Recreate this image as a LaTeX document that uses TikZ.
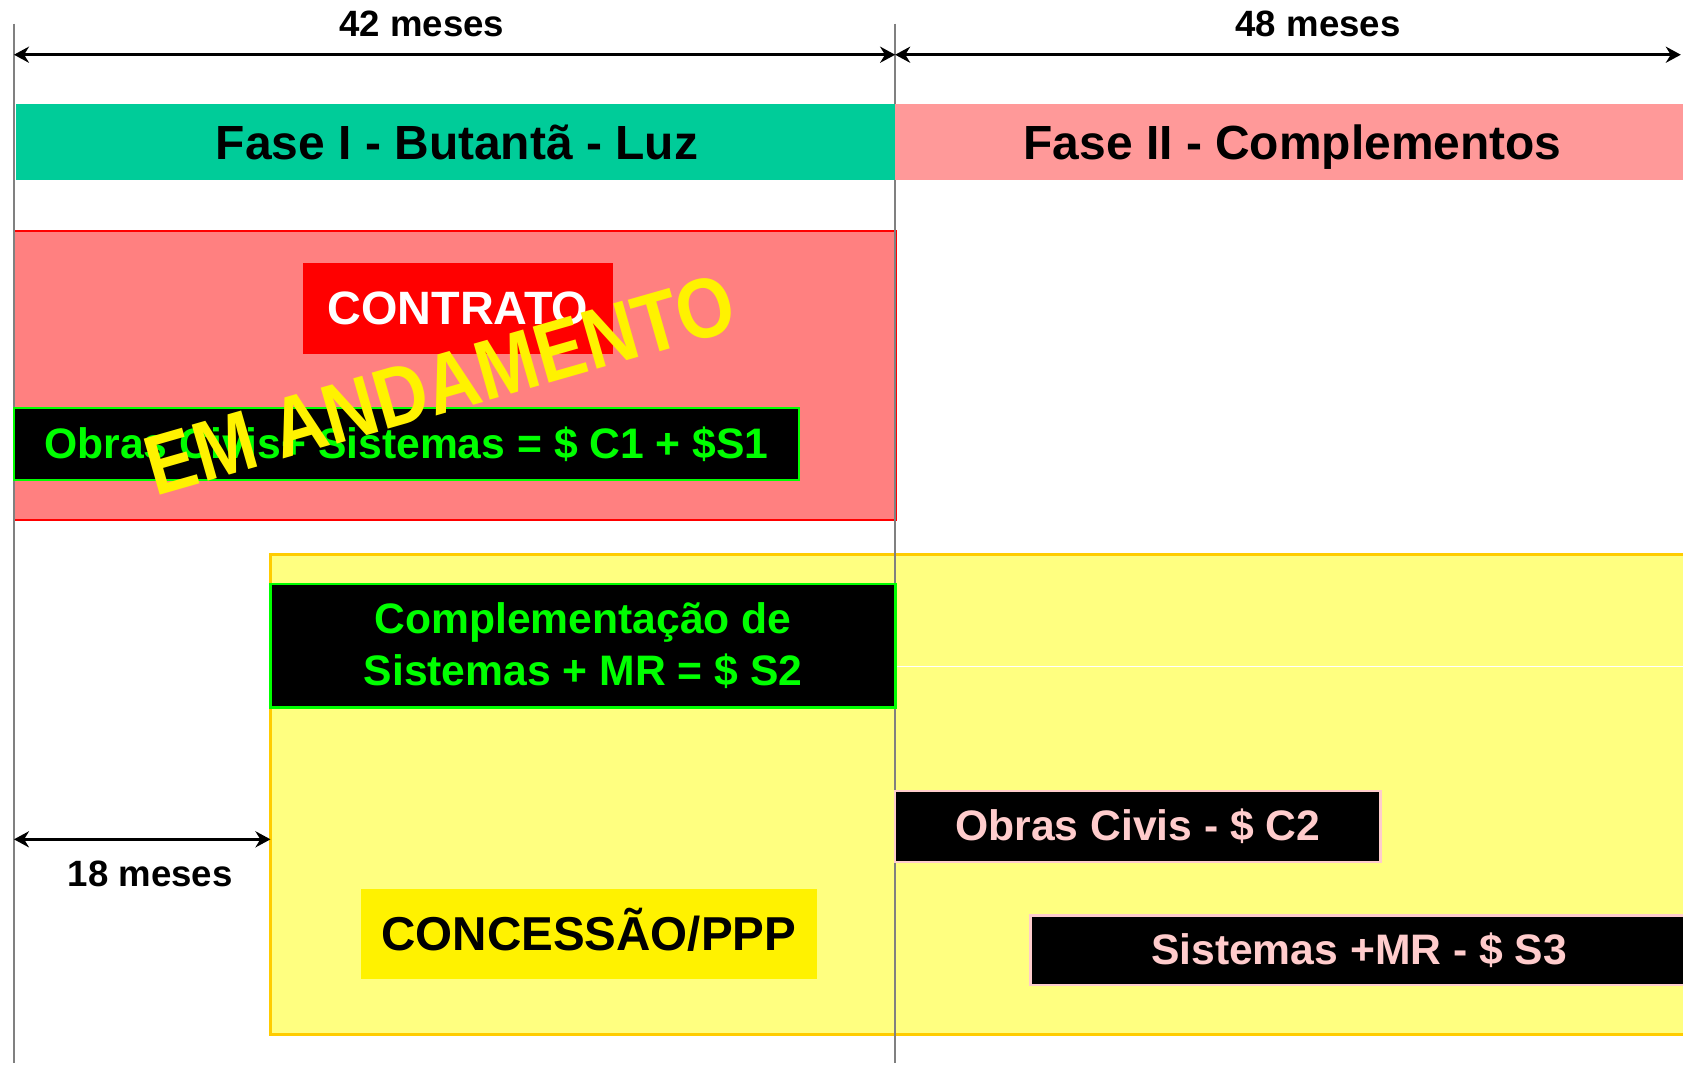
\documentclass[tikz,border=0pt]{standalone}
\usepackage{fontspec}
\setmainfont{Liberation Sans}
\usetikzlibrary{arrows.meta, positioning}

\definecolor{faseverde}{HTML}{00CC99}
\definecolor{faserosa}{HTML}{FF9999}
\definecolor{contratobg}{HTML}{FF8080}
\definecolor{concbg}{HTML}{FFFF80}
\definecolor{concborda}{HTML}{FFCC00}
\definecolor{verdetxt}{HTML}{00FF00}
\definecolor{rosatxt}{HTML}{FFCCCC}
\definecolor{linhacinza}{HTML}{808080}

\begin{document}
\begin{tikzpicture}[x=0.01cm, y=-0.01cm,
    every node/.style={font=\bfseries, align=center},
    bloco/.style={anchor=north west, inner sep=0pt, outer sep=0pt},
    faixa/.style={bloco, minimum height=0.71cm, text height=9.1pt, text depth=0pt, font=\fontsize{12.7}{15}\bfseries},
    cota/.style={{Stealth[length=1.4mm, width=1.5mm]}-{Stealth[length=1.4mm, width=1.5mm]}, line width=0.8pt, black}]
  \useasboundingbox (0,0) rectangle (1568,1001);

  % Areas de fundo
  \node (emcurso) [bloco, fill=contratobg, draw=red, line width=0.6pt, minimum width=8.21cm, minimum height=2.69cm] at (13,215) {};
  \node (concarea) [bloco, fill=concbg, draw=concborda, line width=0.8pt, minimum width=13.2cm, minimum height=4.47cm] at (252,517) {};
  \draw[white, line width=0.3pt] (concarea.west |- 0,621) ++(582,0) -- (1568,621);

  % Linhas verticais
  \coordinate (g0) at (13,22);
  \coordinate (g1) at (13,990);
  \coordinate (m0) at (834,22);
  \coordinate (m1) at (834,990);
  \draw[linhacinza, line width=0.7pt] (g0) -- (g1);
  \draw[linhacinza, line width=0.7pt] (m0) -- (m1);

  % Cotas de prazo
  \coordinate (a0) at (13,51);
  \coordinate (a1) at (834,51);
  \coordinate (a2) at (1566,51);
  \draw[cota] (a0) -- (a1);
  \draw[cota] (a1) -- (a2);
  \node (p42) [font=\fontsize{9.7}{12}\bfseries] at (393,22) {42 meses};
  \node (p48) [font=\fontsize{9.7}{12}\bfseries] at (1228,22) {48 meses};
  \coordinate (b0) at (13,782);
  \coordinate (b1) at (252,782);
  \draw[cota] (b0) -- (b1);
  \node (p18) [font=\fontsize{9.7}{12}\bfseries] at (140,814) {18 meses};

  % Fases
  \node (fase1) [faixa, fill=faseverde, minimum width=8.21cm] at (15,97) {Fase I - Butantã - Luz};
  \node (fase2) [faixa, fill=faserosa, minimum width=7.4cm] at (834,97) {Fase II - Complementos};

  % Contrato
  \node (contrato) [bloco, fill=red, text=white, minimum width=2.89cm, minimum height=0.85cm, font=\fontsize{12.4}{15}\bfseries] at (282,245) {CONTRATO};
  \node (obras1) [bloco, fill=black, draw=verdetxt, line width=0.6pt, text=verdetxt, minimum width=7.31cm, minimum height=0.67cm, font=\fontsize{11.3}{14}\bfseries] at (13,380) {Obras Civis+ Sistemas = \$ C1 + \$S1};

  % Concessao
  \node (compl) [bloco, fill=black, draw=verdetxt, line width=0.6pt, text=verdetxt, minimum width=5.82cm, minimum height=1.15cm, font=\fontsize{11.3}{13.7}\bfseries] at (252,544) {Complementação de\\Sistemas + MR = \$ S2};
  \node (concessao) [bloco, fill=yellow, minimum width=4.25cm, minimum height=0.84cm, text height=9pt, text depth=0.4pt, font=\fontsize{12.6}{15}\bfseries] at (336,828) {CONCESSÃO/PPP};
  \node (obras2) [bloco, fill=black, draw=rosatxt, line width=0.6pt, text=rosatxt, minimum width=4.52cm, minimum height=0.66cm, font=\fontsize{11.3}{14}\bfseries] at (834,737) {Obras Civis - \$ C2};
  \node (sist3) [bloco, fill=black, draw=rosatxt, line width=0.6pt, text=rosatxt, minimum width=6.12cm, minimum height=0.65cm, font=\fontsize{11.3}{14}\bfseries] at (960,853) {Sistemas +MR - \$ S3};

  % Carimbo
  \node (carimbo) [rotate=16, text=yellow, inner sep=0pt, font=\fontsize{19.5}{22}\bfseries] at (410,358) {\scalebox{1}[1.15]{EM ANDAMENTO}};
\end{tikzpicture}
\end{document}
